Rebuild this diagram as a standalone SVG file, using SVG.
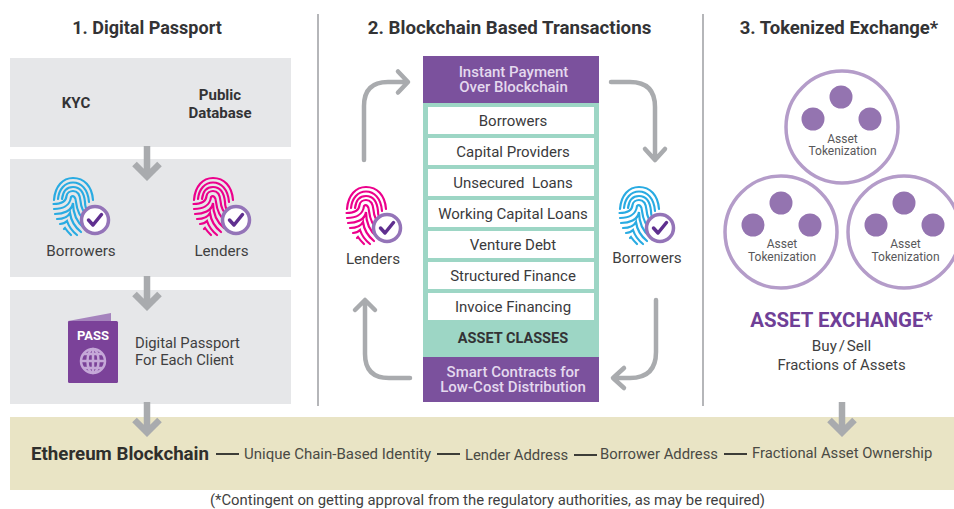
<svg xmlns="http://www.w3.org/2000/svg" xmlns:xlink="http://www.w3.org/1999/xlink" width="954" height="509" viewBox="0 0 954 509">
<style>
text{font-family:"Roboto","Liberation Sans",sans-serif;fill:#3f3f41;text-anchor:middle}
.h{font-size:18.500px;font-weight:700;fill:#333335}
.b{font-size:15px;font-weight:700;fill:#333335}
.l{font-size:15.200px}
.r{font-size:15px;fill:#3a3a3c}
.p{font-size:15px;fill:#e4d9ee;font-weight:500}
.t{font-size:12px;fill:#58585a}
.band{font-size:14.800px;fill:#4a4a44;text-anchor:start}
.panel{fill:#e6e7e9}
.div{stroke:#b5b6b9;stroke-width:2;fill:none}
.arr{fill:none;stroke:#a9abae;stroke-width:4.500;stroke-linecap:round;stroke-linejoin:round}
.dn{fill:none;stroke:#a9abae;stroke-width:6.500;stroke-linejoin:miter}
.row{fill:#fff}
.ring{fill:#fff;stroke:#b49cc9;stroke-width:3.500}
.dot{fill:#9474b0}
.dash{stroke:#3d3d38;stroke-width:2}
</style>
<defs>
<g id="fp" fill="none" stroke-width="2.200" stroke-linecap="round">
<path d="M1 22C2 8 10 0 20 0C31 0 39 8 40 22"/>
<path d="M5 21C6 11 12 4.500 20 4.500C28 4.500 35 11 36 24"/>
<path d="M9 21C10 13 14 9 20 9C27 9 31 14 32 24C32 28 33 31 35 33"/>
<path d="M0.500 26C6 26 13 25 13.500 18C14 15 17 13 20 13C25 13 27 17 27.500 23C28 30 31 35 35 38"/>
<path d="M1 31C9 31 17 28 18 19C20 17 23 19 23 24C24 33 28 40 33 44"/>
<path d="M2 36C10 36 19 33 20 25C20 36 25 45 31 50"/>
<path d="M4 41C10 41 15 39 17 35C18 43 22 49 28 54"/>
<path d="M7 46C10 46 12 45 14 43C16 49 19 53 24 57"/>
<path d="M11 51C11 51 12 50 12 50C14 53 16 55 18 57"/>
</g>
<g id="chk">
<circle r="13.500" fill="#fff" stroke="#9474b8" stroke-width="3.500"/>
<path d="M-6.500 0L-2 5L6.500 -5.500" fill="none" stroke="#5f2f8f" stroke-width="3.500" stroke-linecap="round" stroke-linejoin="round"/>
</g>
<path id="down" class="dn" d="M0 0V30M-12.500 18L0 30.500L12.500 18"/>
</defs>

<g id="panels">
<rect id="panel-kyc" class="panel" x="10" y="58" width="281" height="89"/>
<rect id="panel-identities" class="panel" x="10" y="159" width="281" height="118"/>
<rect id="panel-passport" class="panel" x="10" y="290" width="281" height="114"/>
<rect id="band" x="10" y="417" width="944" height="73" fill="#e9e4c5"/>
<line class="div" x1="318" y1="14" x2="318" y2="406"/>
<line class="div" x1="703" y1="14" x2="703" y2="406"/>
</g>

<g id="connectors">
<use xlink:href="#down" href="#down" x="147" y="146"/>
<use xlink:href="#down" href="#down" x="147" y="276"/>
<use xlink:href="#down" href="#down" x="147" y="402"/>
<use xlink:href="#down" href="#down" x="842" y="402"/>
<path class="arr" d="M364 160V106Q364 82 388 82H407M398 71.500L408 82L398 92.500"/>
<path class="arr" d="M611 82H630Q655 82 655 107V158M645 149L655 160L665 149"/>
<path class="arr" d="M410 378H389Q365 378 365 354V302M355 310L365 300L375 310"/>
<path class="arr" d="M656 300V352Q656 378 630 378H615M624 368L613 378L624 388"/>
</g>

<g id="headers">
<text class="h" x="147" y="34" style="font-size:18px">1. Digital Passport</text>
<text class="h" x="509.500" y="34" style="font-size:18.700px">2. Blockchain Based Transactions</text>
<text class="h" x="839" y="34">3. Tokenized Exchange*</text>
</g>

<g id="kyc"><text class="b" x="76" y="108">KYC</text></g>
<g id="public-database"><text class="b" x="220" y="100">Public</text><text class="b" x="220" y="118">Database</text></g>

<g id="borrowers-left">
<use href="#fp" xlink:href="#fp" x="53" y="178" stroke="#29abe2"/>
<use href="#chk" xlink:href="#chk" x="95" y="220"/>
<text class="l" x="81" y="256">Borrowers</text>
</g>
<g id="lenders-left">
<use href="#fp" xlink:href="#fp" x="193" y="178" stroke="#ec008c"/>
<use href="#chk" xlink:href="#chk" x="236" y="220"/>
<text class="l" x="221.500" y="256">Lenders</text>
</g>

<g id="passport">
<path d="M68 321L111 313V322H68Z" fill="#a583bd"/>
<rect x="68" y="321" width="50" height="62" rx="1.500" fill="#7b4299"/>
<text x="93" y="340" style="font-size:13px;font-weight:700;fill:#fff">PASS</text>
<g fill="none" stroke="#c5a8d8" stroke-width="2.500">
<circle cx="93" cy="361" r="12"/><ellipse cx="93" cy="361" rx="5.500" ry="12"/>
<path d="M81 361H105M83 354H103M83 368H103M93 349V373"/>
</g>
<text class="l" x="135" y="348" style="text-anchor:start;font-size:14.800px">Digital Passport</text>
<text class="l" x="135" y="365" style="text-anchor:start;font-size:14.800px">For Each Client</text>
</g>

<g id="stack">
<rect x="423" y="103" width="176" height="254" fill="#9dd6c5"/>
<g id="instant-payment"><rect x="423" y="56" width="176" height="47" fill="#7b519d"/>
<text class="p" x="513.500" y="77">Instant Payment</text><text class="p" x="513.500" y="92">Over Blockchain</text></g>
<g id="row-1"><rect class="row" x="428" y="107" width="166" height="27"/><text class="r" x="513" y="126">Borrowers</text></g>
<g id="row-2"><rect class="row" x="428" y="138" width="166" height="27"/><text class="r" x="513" y="157">Capital Providers</text></g>
<g id="row-3"><rect class="row" x="428" y="169" width="166" height="27"/><text class="r" x="513" y="188" xml:space="preserve">Unsecured  Loans</text></g>
<g id="row-4"><rect class="row" x="428" y="200" width="166" height="27"/><text class="r" x="513" y="219">Working Capital Loans</text></g>
<g id="row-5"><rect class="row" x="428" y="231" width="166" height="27"/><text class="r" x="513" y="250">Venture Debt</text></g>
<g id="row-6"><rect class="row" x="428" y="262" width="166" height="27"/><text class="r" x="513" y="281">Structured Finance</text></g>
<g id="row-7"><rect class="row" x="428" y="293" width="166" height="27"/><text class="r" x="513" y="312">Invoice Financing</text></g>
<text class="b" x="513" y="343" style="font-size:14.500px">ASSET CLASSES</text>
<g id="smart-contracts"><rect x="423" y="357" width="176" height="45" fill="#7b519d"/>
<text class="p" x="513" y="377">Smart Contracts for</text><text class="p" x="513" y="392">Low-Cost Distribution</text></g>
</g>

<g id="lenders-mid">
<use href="#fp" xlink:href="#fp" x="346" y="187" stroke="#ec008c"/>
<use href="#chk" xlink:href="#chk" x="387" y="228"/>
<text class="l" x="373" y="264">Lenders</text>
</g>
<g id="borrowers-mid">
<use href="#fp" xlink:href="#fp" x="619" y="187" stroke="#29abe2"/>
<use href="#chk" xlink:href="#chk" x="660" y="228"/>
<text class="l" x="647" y="263">Borrowers</text>
</g>

<g id="token-top">
<circle class="ring" cx="842" cy="127" r="56"/>
<circle class="dot" cx="841" cy="97" r="11.500"/><circle class="dot" cx="813" cy="119" r="11.500"/><circle class="dot" cx="870" cy="119" r="11.500"/>
<text class="t" x="842.500" y="143">Asset</text><text class="t" x="842.500" y="155">Tokenization</text>
</g>
<g id="token-left">
<circle class="ring" cx="781" cy="232" r="56"/>
<circle class="dot" cx="781" cy="203" r="11.500"/><circle class="dot" cx="753" cy="225" r="11.500"/><circle class="dot" cx="810" cy="225" r="11.500"/>
<text class="t" x="782" y="248">Asset</text><text class="t" x="782" y="261">Tokenization</text>
</g>
<g id="token-right">
<circle class="ring" cx="904" cy="232" r="56"/>
<circle class="dot" cx="904" cy="203" r="11.500"/><circle class="dot" cx="876" cy="225" r="11.500"/><circle class="dot" cx="933" cy="225" r="11.500"/>
<text class="t" x="905.500" y="248">Asset</text><text class="t" x="905.500" y="261">Tokenization</text>
</g>

<g id="asset-exchange">
<text x="841.500" y="326.500" style="font-size:20.400px;font-weight:700;fill:#6f3f97">ASSET EXCHANGE*</text>
<text class="l" x="841.500" y="351" style="word-spacing:-2px">Buy / Sell</text>
<text class="l" x="841.500" y="370" style="font-size:14.900px">Fractions of Assets</text>
</g>

<g id="ethereum">
<text x="31" y="460" style="font-size:18.700px;font-weight:700;fill:#2f2f2c;text-anchor:start">Ethereum Blockchain</text>
<line class="dash" x1="216" y1="454" x2="239" y2="454"/>
<text class="band" x="244" y="459" style="font-size:15px">Unique Chain-Based Identity</text>
<line class="dash" x1="437" y1="454" x2="460" y2="454"/>
<text class="band" x="465" y="460">Lender Address</text>
<line class="dash" x1="574" y1="455" x2="597" y2="455"/>
<text class="band" x="600" y="459">Borrower Address</text>
<line class="dash" x1="724" y1="454" x2="747" y2="454"/>
<text class="band" x="752" y="458">Fractional Asset Ownership</text>
</g>
<g id="footnote"><text x="487.500" y="505" style="font-size:14.850px">(*Contingent on getting approval from the regulatory authorities, as may be required)</text></g>
</svg>
